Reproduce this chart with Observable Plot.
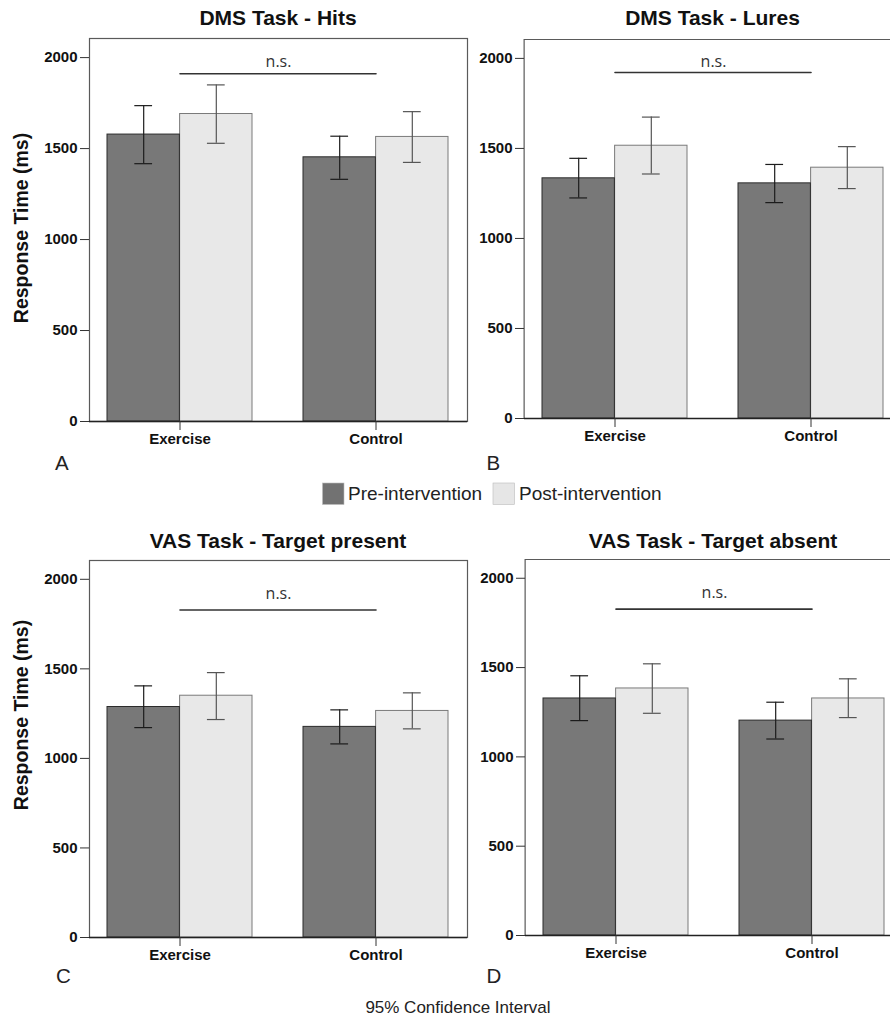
<!DOCTYPE html>
<html><head><meta charset="utf-8">
<script src="https://cdn.jsdelivr.net/npm/d3@7"></script>
<script src="https://cdn.jsdelivr.net/npm/@observablehq/plot@0.6"></script>
<style>
body{margin:0;background:#fff;overflow:hidden}
#root{position:relative;width:890px;height:1016px;overflow:hidden;font-family:"Liberation Sans",Arial,sans-serif}
#root > svg{position:absolute}
</style></head><body><div id="root"></div>
<script>
// ---- data ----
const groups = ["Exercise", "Control"];
const phases = ["Pre-intervention", "Post-intervention"];
const panelTitles = ["DMS Task - Hits", "DMS Task - Lures", "VAS Task - Target present", "VAS Task - Target absent"];
const panelLetters = ["A", "B", "C", "D"];
// per panel: [Exercise, Control]
const preMean  = [[1577, 1452], [1334, 1306], [1287, 1176], [1327, 1203]];
const preLow   = [[1417, 1331], [1225, 1199], [1172, 1081], [1203, 1100]];
const preHigh  = [[1736, 1568], [1445, 1411], [1405, 1271], [1454, 1306]];
const postMean = [[1690, 1564], [1515, 1393], [1350, 1265], [1383, 1327]];
const postLow  = [[1529, 1424], [1358, 1277], [1217, 1165], [1244, 1220]];
const postHigh = [[1850, 1703], [1674, 1510], [1479, 1366], [1521, 1437]];
const nsLine   = [1911, 1922, 1829, 1827];
const nsLabelY = [1947, 1950, 1888, 1888];
const sigLabel = "n.s.";
const yTicks = [0, 500, 1000, 1500, 2000];
const yMax = 2105;
const yLabel = "Response Time (ms)";
const caption = "95% Confidence Interval";

// ---- layout ----
// frameW: width of the plotting frame; panels B and D are cut by the page's right edge
const layout = [
  {left: 0,   top: 0,   width: 471, frameW: 378, height: 450, mL: 89, mR: 4, mT: 38, mB: 29, title: [278, 25],     letter: [55, 470],    ylab: [27.5, 228], fullFrame: true},
  {left: 435, top: 0,   width: 455, frameW: 378, height: 450, mL: 89, mR: 0, mT: 39, mB: 32, title: [712.5, 25.3], letter: [486.5, 470], fullFrame: false},
  {left: 0,   top: 520, width: 471, frameW: 378, height: 450, mL: 89, mR: 4, mT: 40, mB: 33, title: [278, 547.7],  letter: [56, 983],    ylab: [27.5, 715], fullFrame: true},
  {left: 435, top: 520, width: 455, frameW: 378, height: 450, mL: 90, mR: 0, mT: 39, mB: 35, title: [713, 547.7],  letter: [486.5, 983], fullFrame: false}
];
const FONT = "Liberation Sans, Arial, sans-serif";
const root = document.getElementById("root");

panelTitles.forEach((t, k) => {
  const L = layout[k];
  const rows = groups.flatMap((g, i) => [
    {group: g, phase: phases[0], mean: preMean[k][i], lo: preLow[k][i], hi: preHigh[k][i]},
    {group: g, phase: phases[1], mean: postMean[k][i], lo: postLow[k][i], hi: postHigh[k][i]}
  ]);
  const pre = rows.filter(d => d.phase === phases[0]);
  const post = rows.filter(d => d.phase === phases[1]);
  const pi = 0.26, po = 0.093;
  const step = L.frameW / (groups.length - pi + 2 * po);
  const bw = step * (1 - pi);
  const half = bw / 2, q = bw / 4, cap = 9;
  const border = {stroke: "#5a5a5a", strokeWidth: 1.2};
  const frameMarks = L.fullFrame
    ? [Plot.frame(border)]
    : [Plot.ruleY([yMax], border), Plot.ruleX([groups[0]], {...border, dx: -(po * step + half)})];
  const chart = Plot.plot({
    width: L.width, height: L.height,
    marginLeft: L.mL, marginRight: L.mR, marginTop: L.mT, marginBottom: L.mB,
    style: {background: "transparent", fontFamily: FONT, color: "#111"},
    x: {domain: groups, range: [L.mL, L.mL + L.frameW], paddingInner: pi, paddingOuter: po, label: null, axis: null},
    y: {domain: [0, yMax], label: null, axis: null},
    marks: [
      ...frameMarks,
      Plot.barY(post, {x: "group", y: "mean", insetLeft: half, fill: "#e8e8e8", stroke: "#7a7a7a", strokeWidth: 1}),
      Plot.barY(pre, {x: "group", y: "mean", insetRight: half, fill: "#787878", stroke: "#2b2b2b", strokeWidth: 1}),
      Plot.ruleY([0], {stroke: "#222", strokeWidth: 1.3}),
      Plot.ruleX(pre, {x: "group", y1: "lo", y2: "hi", dx: -q, stroke: "#1c1c1c", strokeWidth: 1.2}),
      Plot.tickY(pre, {x: "group", y: "lo", insetLeft: q - cap, insetRight: 3 * q - cap, stroke: "#1c1c1c", strokeWidth: 1.2}),
      Plot.tickY(pre, {x: "group", y: "hi", insetLeft: q - cap, insetRight: 3 * q - cap, stroke: "#1c1c1c", strokeWidth: 1.2}),
      Plot.ruleX(post, {x: "group", y1: "lo", y2: "hi", dx: q, stroke: "#555", strokeWidth: 1.2}),
      Plot.tickY(post, {x: "group", y: "lo", insetLeft: 3 * q - cap, insetRight: q - cap, stroke: "#555", strokeWidth: 1.2}),
      Plot.tickY(post, {x: "group", y: "hi", insetLeft: 3 * q - cap, insetRight: q - cap, stroke: "#555", strokeWidth: 1.2}),
      Plot.line(groups.map(g => ({group: g, v: nsLine[k]})), {x: "group", y: "v", stroke: "#333", strokeWidth: 1.6}),
      Plot.text([{v: nsLabelY[k]}], {y: "v", dx: L.fullFrame ? 0 : (L.frameW - (L.width - L.mL - L.mR)) / 2, text: () => sigLabel, fontFamily: "Open Sans", fontSize: 16, fill: "#333", lineAnchor: "bottom"}),
      Plot.axisY({ticks: yTicks, tickSize: 9, tickPadding: 3, fontSize: 15, fontWeight: "bold", stroke: "#333", label: null, tickFormat: d => String(d)}),
      Plot.axisX({tickSize: 9, tickPadding: 3, fontSize: 15, fontWeight: "bold", stroke: "#333", label: null})
    ]
  });
  chart.style.left = L.left + "px";
  chart.style.top = L.top + "px";
  root.appendChild(chart);
});

// ---- annotations: titles, y labels, panel letters, legend, caption ----
const svg = d3.select(root).append("svg")
  .attr("width", 890).attr("height", 1016)
  .style("left", "0px").style("top", "0px")
  .attr("font-family", FONT);

panelTitles.forEach((t, k) => {
  const L = layout[k];
  svg.append("text").attr("x", L.title[0]).attr("y", L.title[1])
    .attr("text-anchor", "middle").attr("font-size", 21).attr("font-weight", "bold").attr("fill", "#111").text(t);
  svg.append("text").attr("x", L.letter[0]).attr("y", L.letter[1])
    .attr("font-size", 20.5).attr("fill", "#222").text(panelLetters[k]);
  if (L.ylab) {
    svg.append("text").attr("transform", `translate(${L.ylab[0]},${L.ylab[1]}) rotate(-90)`)
      .attr("text-anchor", "middle").attr("font-size", 19.5).attr("font-weight", "bold").attr("fill", "#111").text(yLabel);
  }
});

const legendItems = [
  {label: phases[0], fill: "#727272", x: 322.5, tx: 348},
  {label: phases[1], fill: "#e6e6e6", x: 493, tx: 519}
];
legendItems.forEach(d => {
  svg.append("rect").attr("x", d.x).attr("y", 483).attr("width", 21.5).attr("height", 21.5)
    .attr("fill", d.fill).attr("stroke", "#bbb").attr("stroke-width", 0.6);
  svg.append("text").attr("x", d.tx).attr("y", 499.5).attr("font-size", 19).attr("fill", "#222").text(d.label);
});

svg.append("text").attr("x", 458).attr("y", 1013).attr("text-anchor", "middle")
  .attr("font-size", 17).attr("fill", "#222").text(caption);
</script>
</body></html>
